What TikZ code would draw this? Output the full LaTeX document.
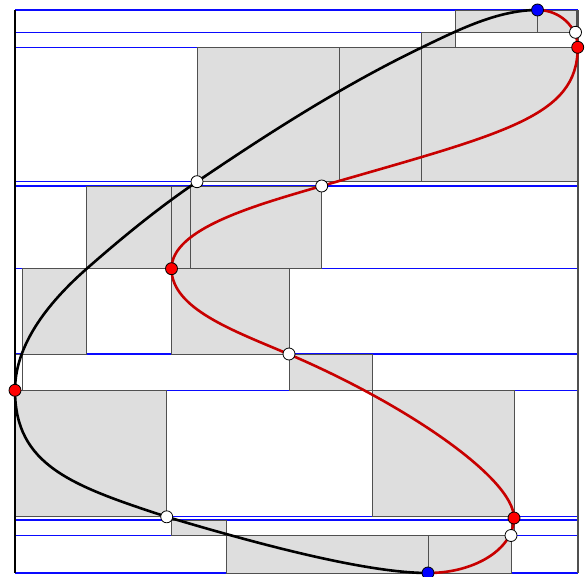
\documentclass[tikz,border=0pt]{standalone}
\definecolor{cellgray}{RGB}{222,222,222}
\definecolor{edgegray}{RGB}{80,80,80}
\definecolor{curvered}{RGB}{200,0,0}
\definecolor{lineblue}{RGB}{10,10,255}
\begin{document}
\begin{tikzpicture}[x=1pt,y=-1pt,
  cell/.style={fill=cellgray,draw=edgegray,line width=0.9pt},
  emptycell/.style={draw=edgegray,line width=0.9pt},
  sep/.style={draw=lineblue,line width=1.3pt},
  blackcurve/.style={draw=black,line width=2.6pt,line cap=round},
  redcurve/.style={draw=curvered,line width=2.6pt,line cap=round},
  dot/.style={circle,draw=black,line width=0.8pt,inner sep=0pt,minimum size=12pt},
  bluedot/.style={dot,fill=blue},
  reddot/.style={dot,fill=red},
  whitedot/.style={dot,fill=white}]
\useasboundingbox[fill=white] (0,0) rectangle (586,577);
% strip separators
\foreach \yy in {10,32.3,47.3,181.7,186,268.7,354,390.3,516.8,520,535.5,573}
  \draw[sep] (15,\yy) -- (578,\yy);
% cells
\draw[cell] (455,10) rectangle (537.5,32.3);
\draw[cell] (537.5,10) rectangle (576,32.3);
\draw[cell] (421.7,32.3) rectangle (455,47.3);
\draw[cell] (576,32.3) rectangle (577.7,47.3);
\draw[cell] (197,47.3) rectangle (339.5,181.7);
\draw[cell] (339.5,47.3) rectangle (421.7,181.7);
\draw[cell] (421.7,47.3) rectangle (577.7,181.7);
\draw[cell] (86.7,186) rectangle (171.5,268.7);
\draw[cell] (171.5,186) rectangle (190.7,268.7);
\draw[cell] (190.7,186) rectangle (321.7,268.7);
\draw[cell] (22.5,268.7) rectangle (86.7,354);
\draw[cell] (171.5,268.7) rectangle (289,354);
\draw[emptycell] (15,354) rectangle (22.5,390.3);
\draw[cell] (289,354) rectangle (372.3,390.3);
\draw[cell] (15,390.3) rectangle (166.7,516.8);
\draw[cell] (372.3,390.3) rectangle (514,516.8);
\draw[cell] (171.7,520) rectangle (226.5,535.5);
\draw[cell] (511,520) rectangle (514,535.5);
\draw[cell] (226.5,535.5) rectangle (428,573);
\draw[cell] (428,535.5) rectangle (511,573);
% frame
\draw[black,line width=1.2pt] (15,10) -- (15,573);
\draw[edgegray,line width=1.8pt] (578,10) -- (578,573);
% key points of the curve
\coordinate (ytopc) at (537.5,10);
\coordinate (ybotc) at (428,573);
% left branch (black)
\draw[blackcurve] (ytopc)
  .. controls (497.5,10) and (457.7,30.2) .. (421.7,47.5)
  .. controls (343.4,85.2) and (269,132.8) .. (197,181.7)
  .. controls (158.1,208.1) and (122,237.7) .. (86.7,268.7)
  .. controls (38.9,310.8) and (15,351.3) .. (15,390.3)
  .. controls (15,465.3) and (71.7,485.8) .. (166.7,516.8)
  .. controls (262.5,545.5) and (368,573) .. (ybotc);
% right branch (red)
\draw[redcurve] (ytopc)
  .. controls (559.7,10) and (577.7,26.7) .. (577.7,47.3)
  .. controls (577.7,117.3) and (504.1,133.2) .. (321.7,186)
  .. controls (254.5,205.5) and (171.5,228.7) .. (171.5,268.7)
  .. controls (171.5,308.7) and (233.8,330.8) .. (289,354.3)
  .. controls (404,403.3) and (514,478) .. (514,518)
  .. controls (514,548.4) and (475.5,573) .. (ybotc);
% points
\node[bluedot] (ytop) at (ytopc) {};
\node[bluedot] (ybot) at (ybotc) {};
\node[reddot] (xmaxa) at (577.7,47.3) {};
\node[reddot] (xmina) at (171.5,268.7) {};
\node[reddot] (xminb) at (15,390.3) {};
\node[reddot] (xmaxb) at (514,518) {};
\node[whitedot] (wa) at (575.5,32.3) {};
\node[whitedot] (wb) at (197,181.7) {};
\node[whitedot] (wc) at (321.7,186) {};
\node[whitedot] (wd) at (289,354) {};
\node[whitedot] (we) at (166.7,516.8) {};
\node[whitedot] (wf) at (511,535.5) {};
\end{tikzpicture}
\end{document}
